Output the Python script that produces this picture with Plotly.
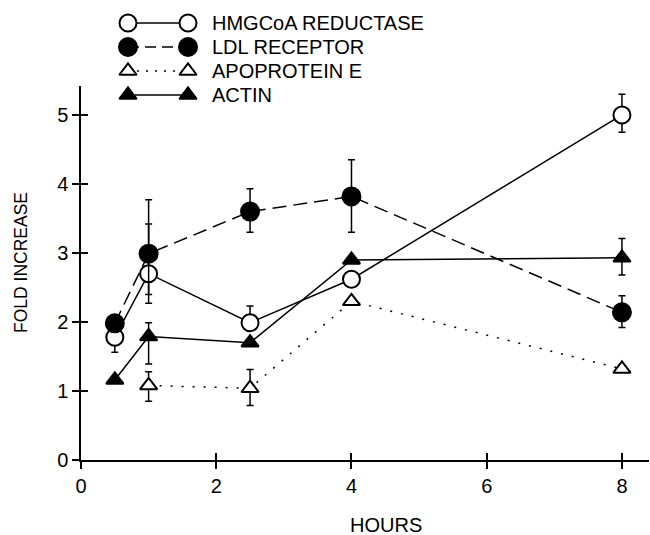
import plotly.graph_objects as go

# ---- data ----
hours = [0.5, 1, 2.5, 4, 8]
hmg = [1.78, 2.7, 1.99, 2.62, 5.0]
hmg_up = [0, 0.72, 0.24, 0, 0.3]
hmg_dn = [0.22, 0.3, 0, 0, 0.25]

ldl = [1.98, 2.99, 3.6, 3.82, 2.14]
ldl_up = [0, 0.78, 0.33, 0.53, 0.24]
ldl_dn = [0, 0.72, 0.3, 0.52, 0.22]

apo_hours = [1, 2.5, 4, 8]
apo = [1.08, 1.04, 2.3, 1.32]
apo_up = [0.2, 0.27, 0, 0]
apo_dn = [0.23, 0.25, 0, 0]

actin = [1.16, 1.79, 1.7, 2.9, 2.93]
actin_up = [0, 0.2, 0, 0, 0.28]
actin_dn = [0, 0.4, 0, 0, 0.25]

x_ticks = [0, 2, 4, 6, 8]
y_ticks = [0, 1, 2, 3, 4, 5]
legend_names = ["HMGCoA REDUCTASE", "LDL RECEPTOR", "APOPROTEIN E", "ACTIN"]

FONT = "Liberation Sans, Arial, sans-serif"
BLACK = "black"

styles = [
    dict(symbol="circle", size=17, color="white", dash="solid", ldash="solid"),
    dict(symbol="circle", size=18, color=BLACK, dash="14px,7px", ldash="11px,6px"),
    dict(symbol="triangle-up", size=15, color="white", dash="2px,9px", ldash="2px,7px"),
    dict(symbol="triangle-up", size=15, color=BLACK, dash="solid", ldash="solid"),
]
series = [
    (hours, hmg, hmg_up, hmg_dn),
    (hours, ldl, ldl_up, ldl_dn),
    (apo_hours, apo, apo_up, apo_dn),
    (hours, actin, actin_up, actin_dn),
]

fig = go.Figure()
for (xs, ys, up, dn), st in zip(series, styles):
    fig.add_trace(go.Scatter(
        x=xs, y=ys, mode="lines+markers",
        line=dict(color=BLACK, width=1.5, dash=st["dash"]),
        marker=dict(symbol=st["symbol"], size=st["size"], color=st["color"],
                    line=dict(color=BLACK, width=2)),
        error_y=dict(type="data", symmetric=False, array=up, arrayminus=dn,
                     color=BLACK, thickness=1.5, width=3.5),
        xaxis="x", yaxis="y", showlegend=False, cliponaxis=False,
    ))

# ---- layout geometry (pixels) ----
W, H = 650, 535
ML, MR, MT, MB = 81, 1, 0, 75
PW, PH = W - ML - MR, H - MT - MB


def px(xp):
    return (xp - ML) / PW


def py(yp):
    return (H - MB - yp) / PH


# ---- custom legend (pixel-coordinate overlay axes) ----
row_y = [23, 47, 71, 95]
for name, st, ry in zip(legend_names, styles, row_y):
    fig.add_trace(go.Scatter(
        x=[128, 188], y=[ry, ry], mode="lines+markers",
        line=dict(color=BLACK, width=1.5, dash=st["ldash"]),
        marker=dict(symbol=st["symbol"], size=st["size"], color=st["color"],
                    line=dict(color=BLACK, width=2)),
        xaxis="x3", yaxis="y3", showlegend=False, hoverinfo="skip", cliponaxis=False,
    ))
    fig.add_annotation(x=px(210), y=py(ry), xref="paper", yref="paper", text=name,
                       showarrow=False, xanchor="left", yanchor="middle",
                       font=dict(family=FONT, size=20, color=BLACK))

fig.add_annotation(x=px(386), y=py(525), xref="paper", yref="paper", text="HOURS",
                   showarrow=False, xanchor="center", yanchor="middle",
                   font=dict(family=FONT, size=20, color=BLACK))
fig.add_annotation(x=px(21), y=py(263), xref="paper", yref="paper", text="FOLD INCREASE",
                   showarrow=False, textangle=-90, xanchor="center", yanchor="middle",
                   font=dict(family=FONT, size=17.5, color=BLACK))

y_top_px = 86
ydom_top = (H - MB - y_top_px) / PH

axis_common = dict(showgrid=False, zeroline=False, ticklen=7, tickwidth=1.5, tickcolor=BLACK,
                   tickfont=dict(family=FONT, size=20, color=BLACK))
fig.update_layout(
    width=W, height=H,
    margin=dict(l=ML, r=MR, t=MT, b=MB),
    paper_bgcolor="white", plot_bgcolor="rgba(0,0,0,0)",
    xaxis=dict(range=[0, 8.4], domain=[0, 1], tickvals=x_ticks, ticks="outside",
               showline=True, linecolor=BLACK, linewidth=1.5, anchor="y", **axis_common),
    yaxis=dict(range=[0, 5.42], domain=[0, ydom_top], tickvals=y_ticks, ticks="outside",
               showline=True, linecolor=BLACK, linewidth=1.5, anchor="x", **axis_common),
    xaxis2=dict(range=[0, 8.4], overlaying="x", anchor="y", tickvals=x_ticks, ticks="inside",
                showticklabels=False, showline=False, **axis_common),
    yaxis2=dict(range=[0, 5.42], overlaying="y", anchor="x", tickvals=y_ticks, ticks="inside",
                showticklabels=False, showline=False, **axis_common),
    xaxis3=dict(range=[ML, W - MR], domain=[0, 1], visible=False, anchor="y3", fixedrange=True),
    yaxis3=dict(range=[H - MB, MT], domain=[0, 1], visible=False, anchor="x3", fixedrange=True),
)
# dummy trace to activate overlay tick axes
fig.add_trace(go.Scatter(x=[None], y=[None], xaxis="x2", yaxis="y2", showlegend=False))

fig.write_html("out.html")
